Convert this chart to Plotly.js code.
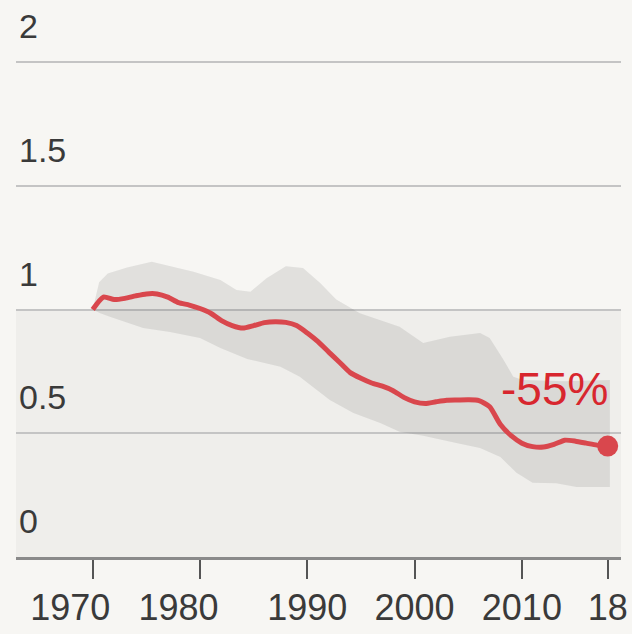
<!DOCTYPE html>
<html>
<head>
<meta charset="utf-8">
<script src="https://cdn.plot.ly/plotly-3.0.1.min.js"></script>
<style>
  html, body { margin: 0; padding: 0; background: #f7f6f3; }
  #chart { width: 632px; height: 634px; }
</style>
</head>
<body>
<div id="chart"></div>
<script>
// index line (1970 = 1)
const years = [1970, 1971, 1972, 1973, 1974, 1975, 1976, 1977, 1978, 1979,
               1980, 1981, 1982, 1983, 1984, 1985, 1986, 1987, 1988, 1989,
               1990, 1991, 1992, 1993, 1994, 1995, 1996, 1997, 1998, 1999,
               2000, 2001, 2002, 2003, 2004, 2005, 2006, 2007, 2008, 2009,
               2010, 2011, 2012, 2013, 2014, 2015, 2016, 2017, 2018];
const index = [1.0, 1.05, 1.04, 1.045, 1.055, 1.063, 1.063, 1.05, 1.028, 1.018,
               1.004, 0.985, 0.955, 0.935, 0.925, 0.935, 0.947, 0.951, 0.948, 0.935,
               0.905, 0.87, 0.828, 0.787, 0.745, 0.722, 0.703, 0.69, 0.672, 0.645,
               0.627, 0.62, 0.627, 0.633, 0.634, 0.635, 0.632, 0.607, 0.535, 0.49,
               0.46, 0.446, 0.444, 0.455, 0.472, 0.468, 0.46, 0.452, 0.448];

// uncertainty band, upper and lower edges
const upperYears = [1970, 1970.6, 1971.4, 1973.2, 1975.5, 1977.2, 1979.4, 1981.9, 1983.4, 1984.7,
                    1986.2, 1988, 1989.6, 1991.2, 1992.7, 1994.9, 1996.8, 1998.6, 2000.8, 2003.3,
                    2006.1, 2007, 2008.3, 2009.2, 2010.1, 2014, 2018.2];
const upperVals = [1.0, 1.11, 1.145, 1.17, 1.193, 1.175, 1.153, 1.119, 1.079, 1.072,
                   1.126, 1.175, 1.168, 1.107, 1.04, 0.985, 0.958, 0.93, 0.865, 0.89,
                   0.905, 0.885, 0.796, 0.728, 0.715, 0.71, 0.715];
const lowerYears = [1970, 1970.7, 1971.6, 1974.7, 1977.2, 1980, 1981.9, 1984.4, 1987.5, 1989.3,
                    1990.5, 1992.1, 1994.3, 1996.8, 1998.6, 2000.8, 2004, 2006.1, 2008, 2009.5,
                    2011, 2013.2, 2015.1, 2018.2];
const lowerVals = [1.0, 0.985, 0.971, 0.925, 0.909, 0.885, 0.844, 0.8, 0.769, 0.728,
                   0.688, 0.634, 0.582, 0.541, 0.506, 0.49, 0.46, 0.44, 0.404, 0.34,
                   0.3, 0.298, 0.283, 0.283];

// ticks sit on the years; the first two labels are set a little to the left
const xTickVals = [1970, 1980, 1990, 2000, 2010, 2018];
const xLabelVals = [1967.9, 1978.0, 1990, 2000, 2010, 2018];
const xTickText = ['1970', '1980', '1990', '2000', '2010', '18'];
const yTickVals = [0, 0.5, 1, 1.5, 2];
const yTickText = ['0', '0.5', '1', '1.5', '2'];
const changeLabel = '-55%';

const red = '#d9474d';

// band polygon: upper edge forward, lower edge back
const bandX = upperYears.concat(lowerYears.slice().reverse());
const bandY = upperVals.concat(lowerVals.slice().reverse());

const band = {
    x: bandX,
    y: bandY,
    type: 'scatter',
    mode: 'lines',
    fill: 'toself',
    fillcolor: 'rgba(90,90,90,0.14)',
    line: { width: 0 },
    hoverinfo: 'skip'
};

const line = {
    x: years,
    y: index,
    type: 'scatter',
    mode: 'lines',
    line: { color: red, width: 5, shape: 'spline', smoothing: 0.6 },
    hoverinfo: 'skip'
};

const lastPoint = {
    x: [years[years.length - 1]],
    y: [index[index.length - 1]],
    xaxis: 'x2',
    type: 'scatter',
    mode: 'markers',
    marker: { color: red, size: 21 },
    hoverinfo: 'skip'
};

const xRange = [1962.85, 2019.24];

const layout = {
    width: 632,
    height: 634,
    margin: { l: 16, r: 11, t: 0, b: 77 },
    paper_bgcolor: '#f7f6f3',
    plot_bgcolor: 'rgba(0,0,0,0)',
    showlegend: false,
    font: { family: 'Liberation Sans, Arial, sans-serif', color: '#3a3a3a' },
    xaxis: {
        range: xRange,
        tickvals: xTickVals,
        showticklabels: false,
        ticks: 'outside',
        ticklen: 19,
        tickwidth: 2,
        tickcolor: '#555',
        showgrid: false,
        zeroline: false,
        showline: true,
        linecolor: '#8a8a8a',
        linewidth: 3,
        fixedrange: true
    },
    xaxis2: {
        range: xRange,
        overlaying: 'x',
        anchor: 'y',
        side: 'bottom',
        tickvals: xLabelVals,
        ticktext: xTickText,
        tickangle: 0,
        ticks: 'outside',
        ticklen: 19,
        tickcolor: 'rgba(0,0,0,0)',
        showgrid: false,
        zeroline: false,
        showline: false,
        tickfont: { size: 36, color: '#3a3a3a' },
        fixedrange: true
    },
    yaxis: {
        range: [0, 2.2505],
        tickvals: yTickVals,
        ticktext: yTickText,
        ticklabelposition: 'inside top',
        ticklabelshift: -12,
        ticks: '',
        showgrid: true,
        gridcolor: '#c4c4c4',
        gridwidth: 2,
        zeroline: false,
        showline: false,
        tickfont: { size: 34, color: '#3a3a3a' },
        fixedrange: true
    },
    shapes: [{
        type: 'rect',
        xref: 'paper', yref: 'y',
        x0: 0, x1: 1, y0: 0, y1: 1,
        fillcolor: '#efeeeb',
        line: { width: 0 },
        layer: 'below'
    }],
    annotations: [{
        x: 2018.2,
        y: 0.68,
        xref: 'x', yref: 'y',
        text: changeLabel,
        showarrow: false,
        xanchor: 'right',
        yanchor: 'middle',
        font: { size: 46, color: '#d8262e', family: 'Liberation Sans, Arial, sans-serif' }
    }]
};

Plotly.newPlot('chart', [band, line, lastPoint], layout, { displayModeBar: false, staticPlot: true });
</script>
</body>
</html>
